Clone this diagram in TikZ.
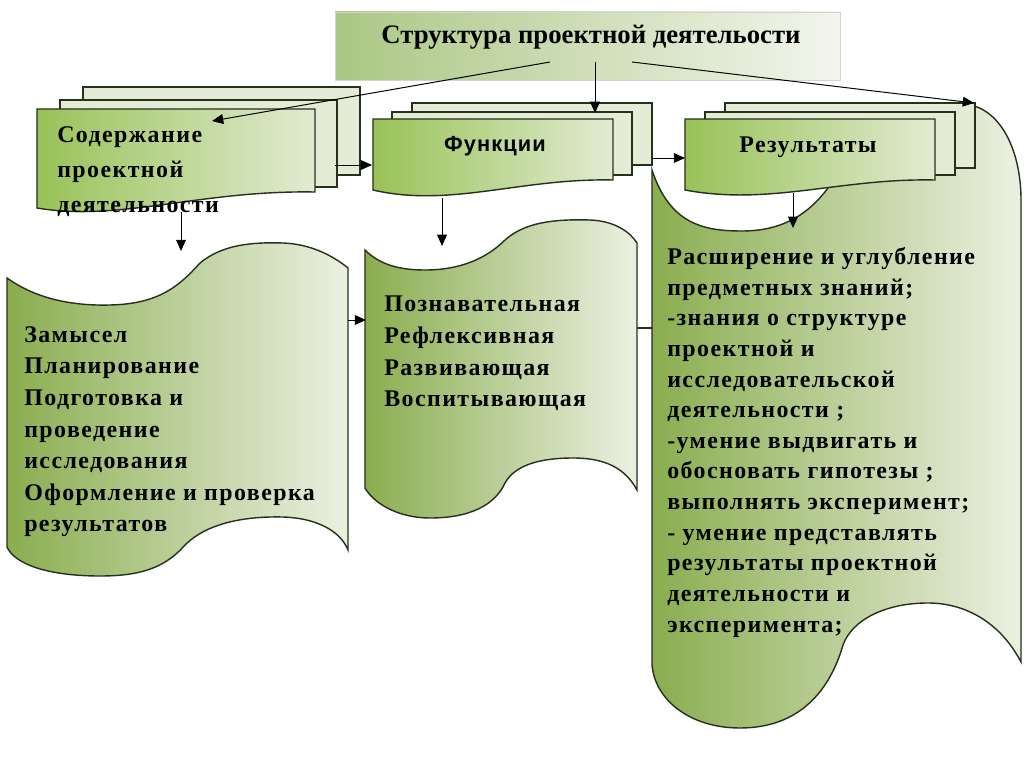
\documentclass[tikz,border=0pt]{standalone}
\usepackage{fontspec}
\setmainfont{Liberation Serif}
\newfontfamily\spaced[LetterSpace=6]{Liberation Serif}
\newfontfamily\spacedsans[LetterSpace=5]{Liberation Sans}
\usetikzlibrary{arrows.meta}
\definecolor{edge}{HTML}{26301C}
\definecolor{tapedark}{HTML}{8AAD4F}
\definecolor{tapelight}{HTML}{ECF0E2}
\definecolor{frontdark}{HTML}{98C257}
\definecolor{frontlight}{HTML}{E2EBD2}
\definecolor{backfill}{HTML}{E4ECD6}
\definecolor{titledark}{HTML}{ABC783}
\definecolor{titlelight}{HTML}{F3F5EE}

\begin{document}
\begin{tikzpicture}[x=0.025cm,y=-0.025cm,
    line/.style={draw=edge,line width=1pt},
    back/.style={line,fill=backfill},
    front/.style={line,left color=frontdark,right color=frontlight},
    tape/.style={line,left color=tapedark,right color=tapelight},
    arr/.style={draw=black,line width=0.7pt,-{Triangle[length=8pt,width=7pt]}},
    txt/.style={inner sep=0pt,anchor=north west,align=left,
        font=\spaced\bfseries\fontsize{17}{22.5}\selectfont}]
    \useasboundingbox (0,0) rectangle (1024,767);
    \fill[white] (0,0) rectangle (1024,767);

    % tapes
    \path[tape] (652,170) .. controls (670,225) and (705,231) .. (742,231)
        .. controls (785,231) and (810,212) .. (828,188)
        .. controls (868,135) and (920,103) .. (963,104)
        .. controls (1000,106) and (1021,150) .. (1021,200) -- (1021,662)
        .. controls (1000,622) and (965,603) .. (928,603)
        .. controls (885,603) and (852,620) .. (843,645)
        .. controls (830,690) and (800,728) .. (740,728)
        .. controls (690,728) and (655,700) .. (652,665) -- cycle;
    \path[tape] (7,278) .. controls (35,298) and (70,306) .. (110,305)
        .. controls (160,304) and (180,285) .. (200,263)
        .. controls (222,245) and (250,242) .. (283,243)
        .. controls (310,244) and (332,255) .. (348,268) -- (348,550)
        .. controls (340,530) and (315,518) .. (283,517)
        .. controls (240,516) and (205,525) .. (185,545)
        .. controls (165,568) and (140,576) .. (100,576)
        .. controls (50,576) and (15,565) .. (7,547) -- cycle;
    \path[tape] (365,250) .. controls (380,265) and (400,270) .. (425,270)
        .. controls (465,270) and (490,255) .. (505,240)
        .. controls (525,222) and (555,219) .. (590,220)
        .. controls (615,221) and (630,232) .. (637,243) -- (637,490)
        .. controls (625,468) and (605,458) .. (573,458)
        .. controls (540,458) and (515,465) .. (505,483)
        .. controls (495,505) and (470,518) .. (430,518)
        .. controls (400,518) and (375,505) .. (365,488) -- cycle;

    % title
    \path[left color=titledark,right color=titlelight,draw=gray!35] (335,12) rectangle (840,80);
    \node (title) at (591,37) {\fontsize{19}{22}\selectfont\bfseries Структура проектной деятельости};

    % stacks
    \path[back] (83,87) rectangle (360,175);
    \path[back] (60,100) rectangle (337,187);
    \path[front] (37,109) -- (315,109) -- (315,192) .. controls (200,190) and (120,222) .. (37,208) -- cycle;
    \path[back] (412,103) rectangle (652,165);
    \path[back] (392,112) rectangle (632,175);
    \path[front] (373,119) -- (613,119) -- (613,180) .. controls (520,178) and (450,208) .. (373,190) -- cycle;
    \path[back] (725,103) rectangle (975,168);
    \path[back] (705,112) rectangle (955,175);
    \path[front] (685,119) -- (935,119) -- (935,180) .. controls (840,178) and (770,206) .. (685,190) -- cycle;

    \node[txt,font=\spaced\bfseries\fontsize{17}{25}\selectfont] (content) at (57,126) {Содержание\\проектной\\деятельности};
    \node[font=\spacedsans\bfseries\fontsize{15.5}{18}\selectfont] (func) at (495,146) {Функции};
    \node[txt,anchor=center] (res) at (808,147) {Результаты};

    \node[txt] (stages) at (24,326) {Замысел\\Планирование\\Подготовка и\\проведение\\исследования\\Оформление и проверка\\результатов};
    \node[txt] (kinds) at (384,296) {Познавательная\\Рефлексивная\\Развивающая\\Воспитывающая};
    \node[txt,font=\spaced\bfseries\fontsize{17}{21.8}\selectfont] (outcome) at (667,247) {Расширение и углубление\\предметных знаний;\\-знания о структуре\\проектной и\\исследовательской\\деятельности ;\\-умение выдвигать и\\обосновать гипотезы ;\\выполнять эксперимент;\\- умение представлять\\результаты проектной\\деятельности и\\эксперимента;};

    % arrow ends
    \coordinate (t1) at (550,62);
    \coordinate (t2) at (595,62);
    \coordinate (t3) at (632,62);
    \coordinate (c1) at (212,121);
    \coordinate (f1) at (595,113);
    \coordinate (r1) at (974,103);
    \coordinate (c2) at (335,165);
    \coordinate (f2) at (372,165);
    \coordinate (f3) at (652,158);
    \coordinate (r2) at (685,158);
    \coordinate (c3) at (181,212);
    \coordinate (s1) at (181,251);
    \coordinate (f4) at (442,198);
    \coordinate (k1) at (442,246);
    \coordinate (r3) at (793,193);
    \coordinate (o1) at (793,228);
    \coordinate (s2) at (348,320);
    \coordinate (k2) at (366,320);
    \coordinate (k3) at (637,328);
    \coordinate (o2) at (652,328);

    \draw[arr] (t1) -- (c1);
    \draw[arr] (t2) -- (f1);
    \draw[arr] (t3) -- (r1);
    \draw[arr] (c2) -- (f2);
    \draw[arr] (f3) -- (r2);
    \draw[arr] (c3) -- (s1);
    \draw[arr] (f4) -- (k1);
    \draw[arr] (r3) -- (o1);
    \draw[arr] (s2) -- (k2);
    \draw[line] (k3) -- (o2);
\end{tikzpicture}
\end{document}
